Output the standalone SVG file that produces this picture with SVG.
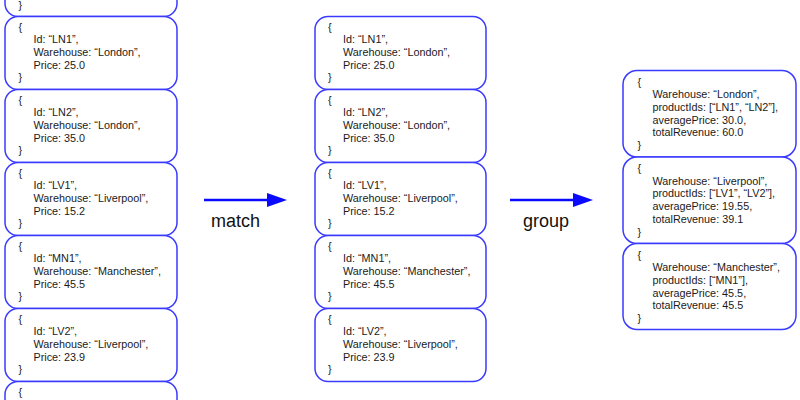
<svg xmlns="http://www.w3.org/2000/svg" width="800" height="400" viewBox="0 0 800 400">
<defs>
<style>
.box{fill:#ffffff;stroke:#3a3aff;stroke-width:1.5}
.t{font-family:"Liberation Sans",Arial,sans-serif;font-size:10.8px;fill:#1a1a1a}
.lbl{font-family:"Liberation Sans",Arial,sans-serif;font-size:18px;fill:#111111}
.arr{stroke:#0a0aff;stroke-width:2.5;fill:none}
</style>
<marker id="ah" markerUnits="userSpaceOnUse" markerWidth="20" markerHeight="14" refX="14" refY="7" orient="auto">
<path d="M0,0 L20,7 L0,14 z" fill="#0a0aff"/>
</marker>
</defs>
<rect width="800" height="400" fill="#ffffff"/>

<!-- left column -->
<g id="in-top">
<rect class="box" x="5" y="-56.5" width="172" height="73" rx="13"/>
<text class="t" x="18.5" y="8.8">}</text>
</g>
<g id="in-LN1">
<rect class="box" x="5" y="16.5" width="172" height="73" rx="13"/>
<text class="t"><tspan x="18.5" y="30.5">{</tspan><tspan x="33.5" y="43.2">Id: “LN1”,</tspan><tspan x="33.5" y="55.9">Warehouse: “London”,</tspan><tspan x="33.5" y="68.6">Price: 25.0</tspan><tspan x="18.5" y="81.3">}</tspan></text>
</g>
<g id="in-LN2">
<rect class="box" x="5" y="89.5" width="172" height="73" rx="13"/>
<text class="t"><tspan x="18.5" y="103.5">{</tspan><tspan x="33.5" y="116.2">Id: “LN2”,</tspan><tspan x="33.5" y="128.9">Warehouse: “London”,</tspan><tspan x="33.5" y="141.6">Price: 35.0</tspan><tspan x="18.5" y="154.3">}</tspan></text>
</g>
<g id="in-LV1">
<rect class="box" x="5" y="162.5" width="172" height="73" rx="13"/>
<text class="t"><tspan x="18.5" y="176.5">{</tspan><tspan x="33.5" y="189.2">Id: “LV1”,</tspan><tspan x="33.5" y="201.9">Warehouse: “Liverpool”,</tspan><tspan x="33.5" y="214.6">Price: 15.2</tspan><tspan x="18.5" y="227.3">}</tspan></text>
</g>
<g id="in-MN1">
<rect class="box" x="5" y="235.5" width="172" height="73" rx="13"/>
<text class="t"><tspan x="18.5" y="249.5">{</tspan><tspan x="33.5" y="262.2">Id: “MN1”,</tspan><tspan x="33.5" y="274.9">Warehouse: “Manchester”,</tspan><tspan x="33.5" y="287.6">Price: 45.5</tspan><tspan x="18.5" y="300.3">}</tspan></text>
</g>
<g id="in-LV2">
<rect class="box" x="5" y="308.5" width="172" height="73" rx="13"/>
<text class="t"><tspan x="18.5" y="322.5">{</tspan><tspan x="33.5" y="335.2">Id: “LV2”,</tspan><tspan x="33.5" y="347.9">Warehouse: “Liverpool”,</tspan><tspan x="33.5" y="360.6">Price: 23.9</tspan><tspan x="18.5" y="373.3">}</tspan></text>
</g>
<g id="in-bottom">
<rect class="box" x="5" y="381.5" width="172" height="73" rx="13"/>
<text class="t" x="18.5" y="395.5">{</text>
</g>

<!-- middle column -->
<g id="m-LN1">
<rect class="box" x="315" y="16.5" width="171" height="73" rx="13"/>
<text class="t"><tspan x="328" y="30.5">{</tspan><tspan x="343" y="43.2">Id: “LN1”,</tspan><tspan x="343" y="55.9">Warehouse: “London”,</tspan><tspan x="343" y="68.6">Price: 25.0</tspan><tspan x="328" y="81.3">}</tspan></text>
</g>
<g id="m-LN2">
<rect class="box" x="315" y="89.5" width="171" height="73" rx="13"/>
<text class="t"><tspan x="328" y="103.5">{</tspan><tspan x="343" y="116.2">Id: “LN2”,</tspan><tspan x="343" y="128.9">Warehouse: “London”,</tspan><tspan x="343" y="141.6">Price: 35.0</tspan><tspan x="328" y="154.3">}</tspan></text>
</g>
<g id="m-LV1">
<rect class="box" x="315" y="162.5" width="171" height="73" rx="13"/>
<text class="t"><tspan x="328" y="176.5">{</tspan><tspan x="343" y="189.2">Id: “LV1”,</tspan><tspan x="343" y="201.9">Warehouse: “Liverpool”,</tspan><tspan x="343" y="214.6">Price: 15.2</tspan><tspan x="328" y="227.3">}</tspan></text>
</g>
<g id="m-MN1">
<rect class="box" x="315" y="235.5" width="171" height="73" rx="13"/>
<text class="t"><tspan x="328" y="249.5">{</tspan><tspan x="343" y="262.2">Id: “MN1”,</tspan><tspan x="343" y="274.9">Warehouse: “Manchester”,</tspan><tspan x="343" y="287.6">Price: 45.5</tspan><tspan x="328" y="300.3">}</tspan></text>
</g>
<g id="m-LV2">
<rect class="box" x="315" y="308.5" width="171" height="73" rx="13"/>
<text class="t"><tspan x="328" y="322.5">{</tspan><tspan x="343" y="335.2">Id: “LV2”,</tspan><tspan x="343" y="347.9">Warehouse: “Liverpool”,</tspan><tspan x="343" y="360.6">Price: 23.9</tspan><tspan x="328" y="373.3">}</tspan></text>
</g>

<!-- right column -->
<g id="g-London">
<rect class="box" x="623" y="70.5" width="173" height="86.5" rx="14"/>
<text class="t"><tspan x="637.5" y="85.5">{</tspan><tspan x="652.5" y="98.2">Warehouse: “London”,</tspan><tspan x="652.5" y="110.9">productIds: [“LN1”, “LN2”],</tspan><tspan x="652.5" y="123.6">averagePrice: 30.0,</tspan><tspan x="652.5" y="136.3">totalRevenue: 60.0</tspan><tspan x="637.5" y="149">}</tspan></text>
</g>
<g id="g-Liverpool">
<rect class="box" x="623" y="157" width="173" height="86.5" rx="14"/>
<text class="t"><tspan x="637.5" y="172">{</tspan><tspan x="652.5" y="184.7">Warehouse: “Liverpool”,</tspan><tspan x="652.5" y="197.4">productIds: [“LV1”, “LV2”],</tspan><tspan x="652.5" y="210.1">averagePrice: 19.55,</tspan><tspan x="652.5" y="222.8">totalRevenue: 39.1</tspan><tspan x="637.5" y="235.5">}</tspan></text>
</g>
<g id="g-Manchester">
<rect class="box" x="623" y="243.5" width="173" height="86" rx="14"/>
<text class="t"><tspan x="637.5" y="258.5">{</tspan><tspan x="652.5" y="271.2">Warehouse: “Manchester”,</tspan><tspan x="652.5" y="283.9">productIds: [“MN1”],</tspan><tspan x="652.5" y="296.6">averagePrice: 45.5,</tspan><tspan x="652.5" y="309.3">totalRevenue: 45.5</tspan><tspan x="637.5" y="322">}</tspan></text>
</g>

<!-- connectors -->
<g id="connectors">
<line class="arr" x1="204" y1="200" x2="281" y2="200" marker-end="url(#ah)"/>
<text class="lbl" x="211" y="227">match</text>
<line class="arr" x1="510" y1="200" x2="587" y2="200" marker-end="url(#ah)"/>
<text class="lbl" x="523" y="227">group</text>
</g>
</svg>
